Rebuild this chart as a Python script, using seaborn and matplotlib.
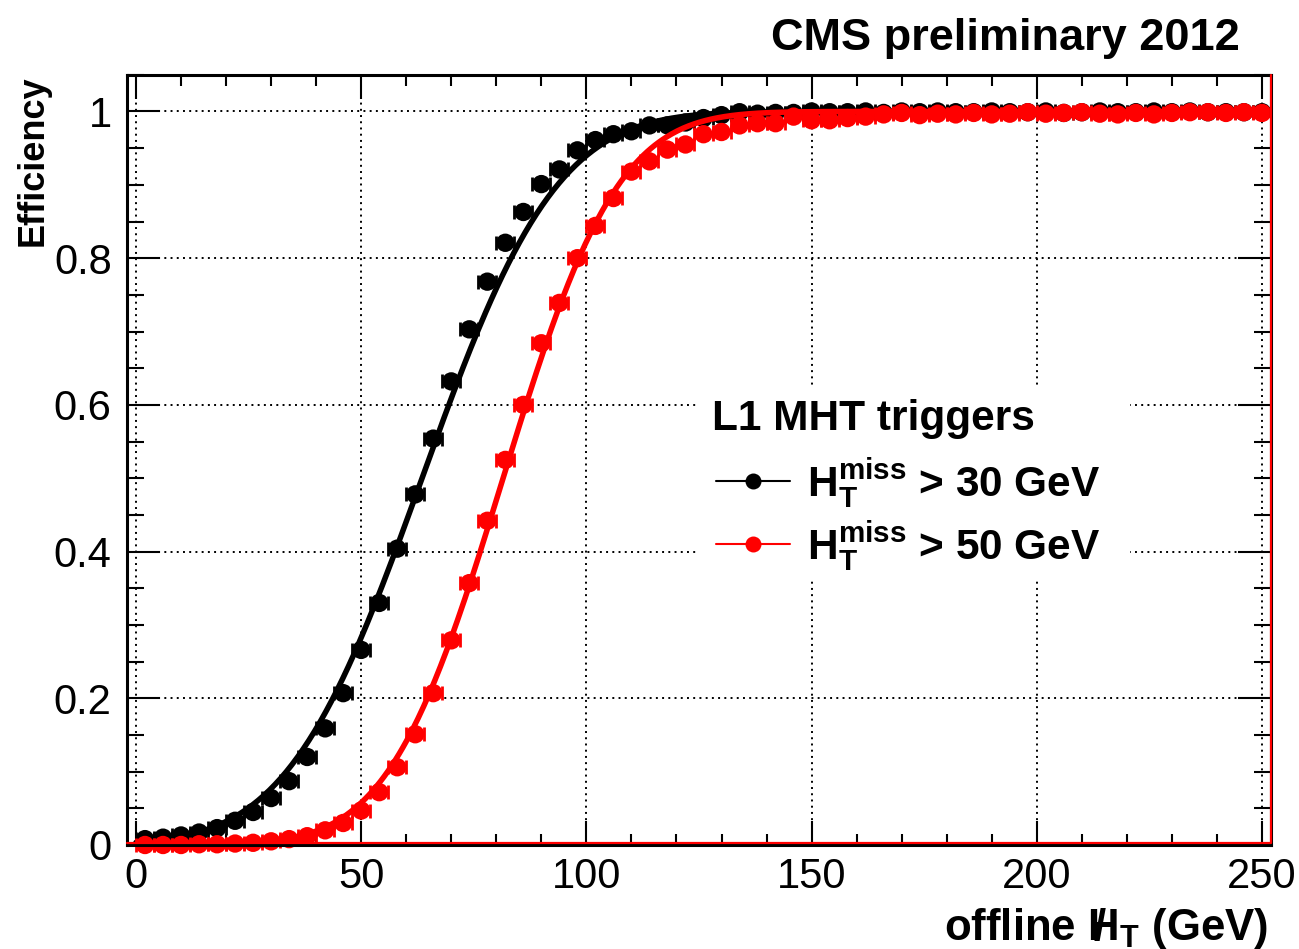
import numpy as np
import pandas as pd
import matplotlib
matplotlib.use("Agg")
import matplotlib.pyplot as plt
import seaborn as sns
from matplotlib.lines import Line2D
from matplotlib.patches import Rectangle
from matplotlib.ticker import MultipleLocator
from matplotlib.font_manager import FontProperties
from math import erf

# ---------------- data ----------------
ht_centres = [2, 6, 10, 14, 18, 22, 26, 30, 34, 38, 42, 46, 50, 54, 58, 62, 66, 70,
              74, 78, 82, 86, 90, 94, 98, 102, 106, 110, 114, 118, 122, 126, 130, 134,
              138, 142, 146, 150, 154, 158, 162, 166, 170, 174, 178, 182, 186, 190, 194,
              198, 202, 206, 210, 214, 218, 222, 226, 230, 234, 238, 242, 246, 250]
bin_half_width = 2.0

eff_mht30 = [0.008, 0.010, 0.013, 0.017, 0.023, 0.033, 0.045, 0.064, 0.087, 0.120,
             0.159, 0.207, 0.266, 0.330, 0.404, 0.478, 0.554, 0.632, 0.703, 0.768,
             0.821, 0.863, 0.901, 0.921, 0.947, 0.961, 0.969, 0.973, 0.981, 0.981,
             0.985, 0.991, 0.995, 0.999, 0.997, 0.998, 0.998,
             1.000, 0.999, 0.999, 1.000, 0.998, 1.000, 0.999, 1.000, 0.999, 0.999,
             1.000, 0.999, 0.999, 1.000, 0.998, 0.999, 1.000, 0.999, 0.999, 1.000,
             0.999, 1.000, 0.999, 0.999, 0.999, 0.999]

eff_mht50 = [0.000, 0.000, 0.000, 0.001, 0.001, 0.002, 0.003, 0.005, 0.008, 0.012,
             0.020, 0.030, 0.047, 0.072, 0.106, 0.151, 0.207, 0.279, 0.357, 0.442,
             0.525, 0.600, 0.684, 0.739, 0.800, 0.844, 0.882, 0.918, 0.932, 0.948,
             0.955, 0.969, 0.972, 0.981, 0.984, 0.984, 0.993,
             0.988, 0.988, 0.991, 0.993, 0.996, 0.998, 0.995, 0.997, 0.996, 0.998,
             0.996, 0.997, 0.999, 0.997, 0.998, 0.999, 0.997, 0.996, 0.998, 0.996,
             0.998, 0.999, 0.999, 0.998, 0.999, 0.998]

# error-function fit parameters (turn-on point, resolution)
fit_mht30 = (63.5, 23.5)
fit_mht50 = (81.5, 20.0)

labels = [r"$\mathbf{H_T^{miss}}$ > 30 GeV", r"$\mathbf{H_T^{miss}}$ > 50 GeV"]
legend_title = "L1 MHT triggers"
colors = ["black", "red"]

# ---------------- style ----------------
sns.set_theme(style="ticks")
plt.rcParams.update({
    "font.family": ["Liberation Sans", "DejaVu Sans"],
    "mathtext.fontset": "custom",
    "mathtext.rm": "Liberation Sans",
    "mathtext.bf": "Liberation Sans:bold",
    "mathtext.it": "Liberation Sans:italic",
    "axes.linewidth": 2.2,
    "axes.edgecolor": "black",
    "text.color": "black",
    "axes.labelcolor": "black",
    "xtick.color": "black",
    "ytick.color": "black",
})

fig = plt.figure(figsize=(12.99, 9.49), dpi=100)
ax = fig.add_axes([127/1299, 1-845/949, 1144/1299, (845-74.8)/949])

df30 = pd.DataFrame({"ht": ht_centres, "eff": eff_mht30})
df50 = pd.DataFrame({"ht": ht_centres, "eff": eff_mht50})

def fit_curve(params):
    mu, sig = params
    xs = np.linspace(0, 250, 600)
    ys = np.array([0.5 * (1 + erf((x - mu) / (np.sqrt(2) * sig))) for x in xs])
    return pd.DataFrame({"ht": xs, "eff": ys})

z = 3
for df, fitp, col in [(df30, fit_mht30, colors[0]), (df50, fit_mht50, colors[1])]:
    ax.errorbar(df["ht"], df["eff"], xerr=bin_half_width, fmt="none", ecolor=col,
                elinewidth=2, capsize=5, capthick=2, clip_on=False, zorder=z)
    sns.scatterplot(data=df, x="ht", y="eff", color=col, s=175, linewidth=0,
                    edgecolor="none", ax=ax, zorder=z + 1, clip_on=False, legend=False)
    sns.lineplot(data=fit_curve(fitp), x="ht", y="eff", color=col, linewidth=4.0,
                 ax=ax, zorder=z + 2)
    z += 3

ax.set_xlim(-2, 252)
ax.set_ylim(0, 1.05)
ax.xaxis.set_major_locator(MultipleLocator(50))
ax.xaxis.set_minor_locator(MultipleLocator(10))
ax.yaxis.set_major_locator(MultipleLocator(0.2))
ax.yaxis.set_minor_locator(MultipleLocator(0.05))
ax.set_yticks([0, 0.2, 0.4, 0.6, 0.8, 1.0])
ax.set_yticklabels(["0", "0.2", "0.4", "0.6", "0.8", "1"])
ax.set_xticks([0, 50, 100, 150, 200, 250])
ax.set_xticklabels(["0", "50", "100", "150", "200", "250"])

ax.tick_params(which="both", direction="in", top=True, right=True, width=1.5,
               colors="black", labelsize=30)
ax.tick_params(axis="x", which="major", length=17, pad=9)
ax.tick_params(axis="x", which="minor", length=8)
ax.tick_params(axis="y", which="major", length=24, pad=11)
ax.tick_params(axis="y", which="minor", length=12.5)
ax.grid(True, which="major", color="black", linestyle=(0, (1, 2.2)), linewidth=1.4)
ax.set_axisbelow(False)
for s in ax.spines.values():
    s.set_zorder(20)
ax.set_xlabel("")
ax.set_ylabel("")

# red frame of the last-drawn histogram
ax.plot([0, 1, 1], [0.002, 0.002, 1], transform=ax.transAxes, color="red",
        lw=1.6, clip_on=False, zorder=21)

# white legend pad (hides the grid behind the legend, as in ROOT)
ax_h = 845 - 74.8
ax.add_patch(Rectangle(((697-127)/1144, (845-580)/ax_h), (1130-697)/1144, (580-385)/ax_h,
                       transform=ax.transAxes, facecolor="white", edgecolor="none",
                       zorder=25))

# legend
handles = [Line2D([0], [0], color=c, lw=1.5, marker="o", markersize=11.5,
                  markeredgewidth=0) for c in colors]
leg = ax.legend(handles, labels, loc="upper left",
                bbox_to_anchor=((716-127)/1144, (845-456)/ax_h), frameon=False,
                prop=FontProperties(family="Liberation Sans", weight="bold", size=30.5),
                handlelength=1.75, handletextpad=0.4, labelspacing=0.22,
                borderpad=0, borderaxespad=0)
leg.set_zorder(30)
ax.text((712-127)/1144, (845-430)/ax_h, legend_title, transform=ax.transAxes,
        ha="left", va="baseline", fontsize=30.5, fontweight="bold", zorder=30)

# texts
fig.text(1240/1299, 1-50/949, "CMS preliminary 2012", ha="right", va="baseline",
         fontsize=32.5, fontweight="bold")
fig.text(33/1299, 1-75/949, "Efficiency", rotation=90, ha="center", va="top",
         fontsize=26, fontweight="bold")
fig.text(1268/1299, 1-940/949,
         r"offline $\,\mathbf{/}\!\!\!\mathbf{H}_{\mathbf{T}}$ (GeV)",
         ha="right", va="baseline", fontsize=31.5, fontweight="bold")

fig.savefig("out.png", dpi=100, facecolor="white")
